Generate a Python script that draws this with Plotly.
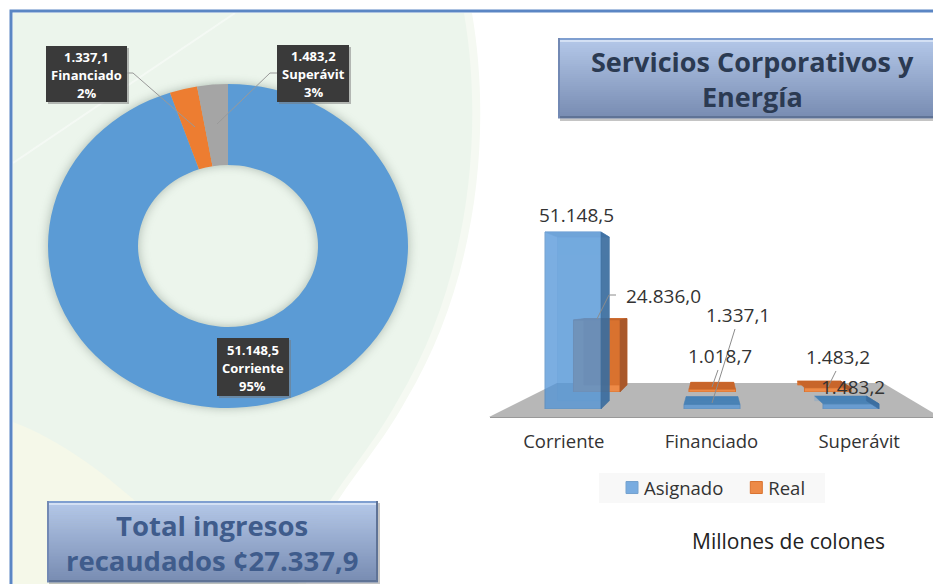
import plotly.graph_objects as go

categories = ["Corriente", "Financiado", "Superávit"]
asignado = [51148.5, 1337.1, 1483.2]
real = [24836.0, 1018.7, 1483.2]
pie_percent = ["95%", "2%", "3%"]
title_lines = ["Servicios Corporativos y", "Energía"]
total_lines = ["Total ingresos", "recaudados ¢27.337,9"]
units_note = "Millones de colones"

W, H = 933, 584
FONT = "Open Sans"


def px(x):
    return x / W


def py(y):
    return 1 - y / H


def fmt(v):
    return f"{v:,.1f}".replace(",", "#").replace(".", ",").replace("#", ".")


def path(pts, close=True):
    s = "M" + " L".join(f"{px(x):.5f},{py(y):.5f}" for x, y in pts)
    return s + (" Z" if close else "")


def curve(start, segs, tail):
    s = f"M{px(start[0]):.5f},{py(start[1]):.5f}"
    for seg_ in segs:
        s += " C" + " ".join(f"{px(x):.5f},{py(y):.5f}" for x, y in seg_)
    for x, y in tail:
        s += f" L{px(x):.5f},{py(y):.5f}"
    return s + " Z"


shapes = []
ann = []


def poly(pts, fill, layer="below", line=None, opacity=1):
    shapes.append(dict(type="path", xref="paper", yref="paper", path=path(pts), fillcolor=fill,
                       line=dict(width=0) if line is None else line, layer=layer, opacity=opacity))


def rect(x0, y0, x1, y1, fill, layer="below", opacity=1):
    shapes.append(dict(type="rect", xref="paper", yref="paper", x0=px(x0), x1=px(x1), y0=py(y0), y1=py(y1),
                       fillcolor=fill, line=dict(width=0), layer=layer, opacity=opacity))


def seg(pts, color="#8c8c8c", width=1, layer="above"):
    shapes.append(dict(type="path", xref="paper", yref="paper", path=path(pts, close=False),
                       fillcolor="rgba(0,0,0,0)", line=dict(color=color, width=width), layer=layer))


def label(x, y, text, size=19, color="#333333", bold=False):
    ann.append(dict(xref="paper", yref="paper", x=px(x), y=py(y), text=f"<b>{text}</b>" if bold else text,
                    showarrow=False, xanchor="center", yanchor="middle",
                    font=dict(family=FONT, size=size, color=color)))


def mix(a, b, t):
    return "rgb(" + ",".join(str(round(a[i] + (b[i] - a[i]) * t)) for i in range(3)) + ")"


# page background swoosh
shapes.append(dict(type="path", xref="paper", yref="paper", layer="below", line=dict(width=0), fillcolor="#f5f9f2",
                   path=curve((472, 13), [[(492, 130), (478, 280), (406, 400)], [(378, 450), (352, 475), (326, 520)]],
                              [(306, 584), (13, 584), (13, 13)])))
shapes.append(dict(type="path", xref="paper", yref="paper", layer="below", line=dict(width=0), fillcolor="#ecf5ec",
                   path=curve((464, 13), [[(484, 130), (470, 280), (398, 400)], [(370, 450), (345, 475), (318, 520)]],
                              [(298, 584), (13, 584), (13, 13)])))
shapes.append(dict(type="path", xref="paper", yref="paper", layer="below", line=dict(width=0), fillcolor="#f5f8e9",
                   path=curve((13, 422), [[(60, 440), (100, 470), (140, 505)]], [(140, 584), (13, 584)])))
seg([(13, 163), (235, 13)], color="rgba(255,255,255,0.45)", width=2, layer="below")
seg([(11, 584), (11, 11), (933, 11)], color="#5b86c4", width=3, layer="below")


def bevel_box(x0, y0, x1, y1):
    rect(x0 + 2, y0 + 2, x1 + 2, y1 + 3, "#8a8a8a", opacity=0.5)
    n = 40
    top, bottom = (180, 200, 233), (120, 140, 178)
    for i in range(n):
        a = y0 + (y1 - y0) * i / n
        b = y0 + (y1 - y0) * (i + 1) / n + 0.5
        rect(x0, a, x1, b, mix(top, bottom, i / (n - 1)))
    rect(x0, y0, x1, y0 + 2, "#7f9fd0")
    rect(x0 + 2, y0 + 2, x1 - 2, y0 + 4, "#d3e0f4")
    rect(x0, y1 - 2, x1, y1, "#5f7396")
    rect(x0, y0, x0 + 2, y1, "#7289b4")
    rect(x1 - 2, y0, x1, y1, "#5f7396")


bevel_box(558, 38, 940, 118)
label(752, 61, title_lines[0], size=27, color="#2b3a52", bold=True)
label(752, 96, title_lines[1], size=27, color="#2b3a52", bold=True)
bevel_box(47, 501, 378, 582)
label(212, 525, total_lines[0], size=27.5, color="#3f5c8c", bold=True)
label(212, 560, total_lines[1], size=27.5, color="#3f5c8c", bold=True)

# floor of the 3-D bar chart
poly([(489, 417), (557, 383), (883, 383), (940, 417)], "#b7b7b7")
label(788, 541, units_note, size=21, color="#222222")
rect(599, 473, 825, 503, "#f8f8f8")

# pie callouts
boxes = [(46, 46, 127, 102, 1), (277, 45, 349, 102, 2), (217, 338, 289, 396, 0)]
for x0, y0, x1, y1, i in boxes:
    rect(x0 + 2, y0 + 2, x1 + 2, y1 + 2, "#777777", layer="above", opacity=0.5)
    rect(x0, y0, x1, y1, "#3a3a3a", layer="above")
    cx = (x0 + x1) / 2
    cy = (y0 + y1) / 2
    label(cx, cy - 17.5, fmt(asignado[i]), size=13, color="#ffffff", bold=True)
    label(cx, cy + 0.5, categories[i], size=13, color="#ffffff", bold=True)
    label(cx, cy + 19, pie_percent[i], size=13, color="#ffffff", bold=True)
seg([(127, 73), (133, 73), (195, 127)], color="#999999")
seg([(277, 73), (270, 73), (217, 124)], color="#999999")

# bar value labels and their leaders
label(576, 215, fmt(asignado[0]))
label(663, 296, fmt(real[0]))
label(738, 315, fmt(asignado[1]))
label(720, 356, fmt(real[1]))
label(838, 357, fmt(real[2]))
label(853, 387, fmt(asignado[2]))
seg([(616, 295), (609, 295), (597, 319)])
seg([(735, 329), (712, 403)])
seg([(718, 370), (712, 387)])
seg([(836, 371), (828, 387)])

# axis geometry (pixels)
A_LEFT, A_RIGHT, A_BASE, A_TOP = 503.5, 920.5, 409, 200
R_LEFT, R_RIGHT, R_BASE, R_TOP = 539, 885.5, 392, 200
A_UNIT = 177 / 51148.5
R_UNIT = 72 / 24836.0
A_YMAX = (A_BASE - A_TOP) / A_UNIT
R_YMAX = (R_BASE - R_TOP) / R_UNIT
BAR_W = 0.403
K = 0.075
VP_Y = 300
xs = list(range(len(categories)))


def back(x, y, base, unit):
    vy = (base - VP_Y) / unit
    return x + K * (1 - x), y + K * (vy - y)


def faces(values, base, unit, xa, ya, top_col, tall_top_col, side_col, back_col, opacity):
    out = []
    vy = (base - VP_Y) / unit
    for i, v in zip(xs, values):
        l, r = i - BAR_W / 2, i + BAR_W / 2
        fl, fr, tl, tr = (l, 0), (r, 0), (l, v), (r, v)
        bl0, br0, bl1, br1 = [back(*p, base, unit) for p in (fl, fr, tl, tr)]
        polys = [([bl0, br0, br1, bl1], back_col)]
        polys.append(([tl, tr, br1, bl1], tall_top_col if v > vy else top_col))
        if i != 1:
            polys.append(([fr, br0, br1, tr], side_col))
        for pts, col in polys:
            out.append(go.Scatter(x=[p[0] for p in pts] + [pts[0][0]], y=[p[1] for p in pts] + [pts[0][1]],
                                  fill="toself", fillcolor=col, mode="lines", line=dict(width=0.6, color=col),
                                  opacity=opacity, showlegend=False, hoverinfo="skip", xaxis=xa, yaxis=ya))
    return out


fig = go.Figure()
fig.add_trace(go.Pie(labels=categories, values=asignado, sort=False, direction="clockwise", rotation=0, hole=0.5,
                     textinfo="none", showlegend=False, automargin=False,
                     marker=dict(colors=["#5b9bd5", "#ed7d31", "#a5a5a5"], line=dict(width=0)),
                     domain=dict(x=[px(228 - 162), px(228 + 162)], y=[py(408), py(84)])))

# Real first so the glassy Asignado bars sit over it
for t in faces(real, R_BASE, R_UNIT, "x", "y", "#c8652a", "#c8652a", "#a9582a", "#d9722f", 1):
    fig.add_trace(t)
fig.add_trace(go.Bar(x=xs, y=real, name="Real", width=BAR_W, marker=dict(color="#ed8a47", line=dict(color="#d9722f", width=1)),
                     hovertext=categories, xaxis="x", yaxis="y"))
fig.add_trace(go.Bar(x=xs, y=asignado, name="Asignado", width=BAR_W, opacity=0.75,
                     marker=dict(color="#4f93d8", line=dict(color="#4a86c0", width=1)),
                     hovertext=categories, xaxis="x2", yaxis="y2"))
for t in faces(asignado, A_BASE, A_UNIT, "x2", "y2", "#3f7db5", "#6ea3d8", "#3a6c9e", "rgba(91,155,213,0.25)", 0.9):
    fig.add_trace(t)
# category labels on the floor's front edge
fig.add_trace(go.Scatter(x=xs, y=[0, 0, 0], mode="markers", marker=dict(opacity=0), showlegend=False,
                         hoverinfo="skip", xaxis="x3", yaxis="y3"))

hidden = dict(visible=False, fixedrange=True)
fig.update_layout(
    width=W, height=H, margin=dict(l=0, r=0, t=0, b=0), paper_bgcolor="white", plot_bgcolor="rgba(0,0,0,0)",
    barmode="overlay", shapes=shapes, annotations=ann,
    font=dict(family=FONT, color="#333333"),
    xaxis=dict(domain=[px(R_LEFT), px(R_RIGHT)], range=[-0.5, 2.5], anchor="y", **hidden),
    yaxis=dict(domain=[py(R_BASE), py(R_TOP)], range=[0, R_YMAX], anchor="x", **hidden),
    xaxis2=dict(domain=[px(A_LEFT), px(A_RIGHT)], range=[-0.5, 2.5], anchor="y2", **hidden),
    yaxis2=dict(domain=[py(A_BASE), py(A_TOP)], range=[0, A_YMAX], anchor="x2", **hidden),
    xaxis3=dict(domain=[px(490), 1], range=[-0.5, 2.5], anchor="y3", tickmode="array", tickvals=xs, ticktext=categories,
                showgrid=False, zeroline=False, showline=True, linecolor="#999999", linewidth=1, ticks="",
                tickfont=dict(family=FONT, size=18.5, color="#333333"), ticklabelstandoff=8, fixedrange=True),
    yaxis3=dict(domain=[py(417), py(300)], range=[0, 1], anchor="x3", visible=False, fixedrange=True),
    legend=dict(orientation="h", x=px(612), y=py(488), xanchor="left", yanchor="middle", traceorder="reversed",
                bgcolor="rgba(0,0,0,0)", font=dict(family=FONT, size=18.5, color="#333333"), itemwidth=30),
)

finish = """
var s = 360 / 324, cx = 228;
document.querySelectorAll('.pielayer').forEach(function (g) {
  g.setAttribute('transform', 'translate(' + cx + ' 0) scale(' + s + ' 1) translate(' + (-cx) + ' 0)');
  g.style.filter = 'drop-shadow(0 0 5px rgba(90,110,100,0.45))';
});
document.querySelectorAll('.legendtext').forEach(function (t) {
  t.setAttribute('x', parseFloat(t.getAttribute('x')) - 8);
});
document.body.style.margin = '0';
"""
fig.write_html("out.html", post_script=finish, config=dict(displayModeBar=False))
